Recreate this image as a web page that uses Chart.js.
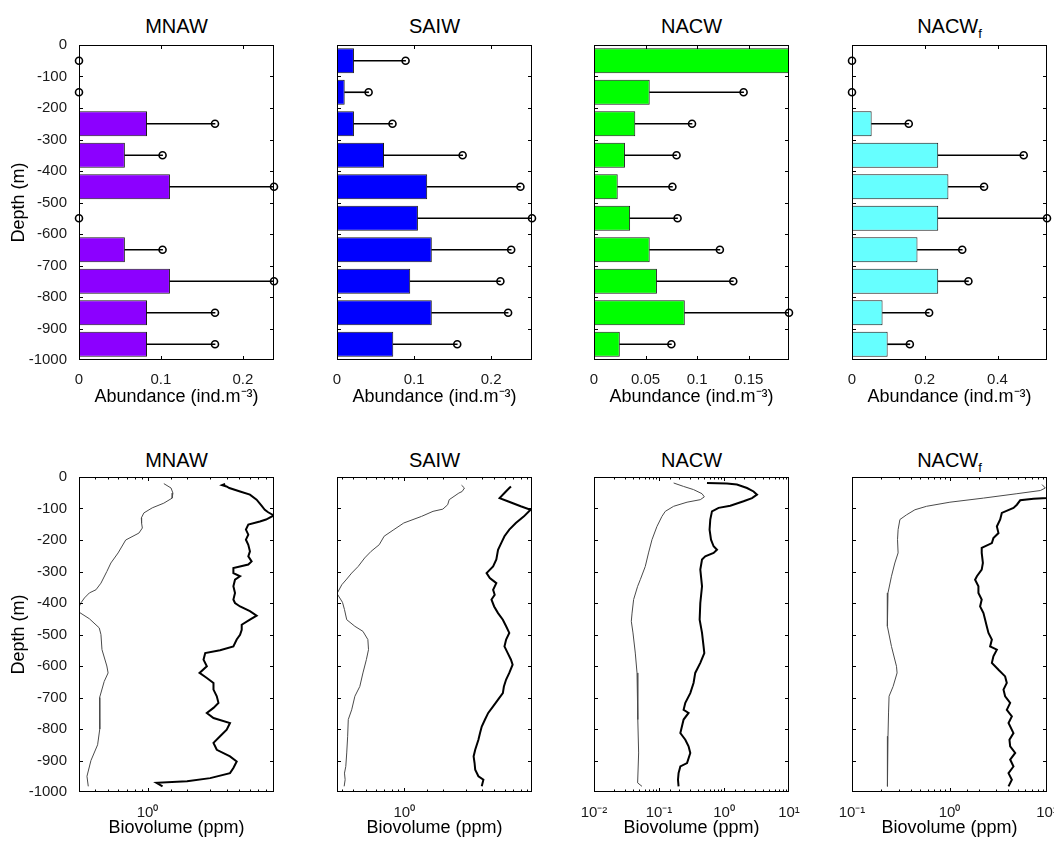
<!DOCTYPE html>
<html>
<head>
<meta charset="utf-8">
<script src="https://cdn.jsdelivr.net/npm/chart.js@4.4.1/dist/chart.umd.min.js"></script>
<style>
  html, body { margin: 0; padding: 0; background: #fff; overflow: hidden; width: 1054px; height: 843px; }
  canvas { position: absolute; }
  .ttl { position: absolute; width: 195px; text-align: center; white-space: nowrap;
         font: 20px "Liberation Sans", Arial, sans-serif; line-height: 20px; color: #000; }
  .ttl sub { font-size: 13px; line-height: 0; vertical-align: -5px; }
</style>
</head>
<body>
<script>
/* ═══════════════════════════════════════════════════════
   Abundance (bars) + biovolume profiles (lines) per water mass
═══════════════════════════════════════════════════════ */

/* ── Top row: depth bins, mean abundance and mean+sd ── */
const depthBins = [-50, -150, -250, -350, -450, -550, -650, -750, -850, -950];

const mnawMean  = [0, 0, 0.083, 0.056, 0.111, 0, 0.056, 0.111, 0.083, 0.083];
const mnawHigh  = [0, 0, 0.166, 0.102, 0.238, 0, 0.102, 0.238, 0.166, 0.166];

const saiwMean  = [0.022, 0.010, 0.022, 0.061, 0.117, 0.105, 0.123, 0.095, 0.123, 0.073];
const saiwHigh  = [0.089, 0.041, 0.072, 0.163, 0.238, 0.253, 0.226, 0.212, 0.222, 0.156];

const nacwMean  = [0.25, 0.054, 0.040, 0.030, 0.023, 0.035, 0.054, 0.061, 0.088, 0.025];
const nacwHigh  = [null, 0.145, 0.095, 0.080, 0.076, 0.081, 0.122, 0.135, 0.189, 0.075];

const nacwfMean = [0, 0, 0.054, 0.237, 0.265, 0.237, 0.180, 0.237, 0.084, 0.098];
const nacwfHigh = [0, 0, 0.156, 0.472, 0.363, 0.536, 0.303, 0.320, 0.212, 0.159];

/* ── Bottom row: [depth, biovolume ppm] profiles (thin = small, thick = large) ── */
const mnawThin = [[-21,1.33],[-35,1.51],[-51,1.56],[-67,1.54],[-83,1.33],[-98,1.085],[-114,0.937],[-130,0.896],
  [-146,0.90],[-162,0.912],[-178,0.859],[-200,0.681],[-241,0.596],[-273,0.525],[-300,0.489],[-337,0.441],
  [-358,0.404],[-368,0.360],[-384,0.330],[-399,0.311],[-425,0.29],[-450,0.360],[-479,0.428],[-500,0.441],
  [-548,0.449],[-600,0.489],[-622,0.500],[-649,0.467],[-700,0.431],[-749,0.431],[-800,0.433],[-850,0.416],
  [-900,0.370],[-950,0.345],[-982,0.353]];
const mnawThick = [[-22,3.9],[-26,3.7],[-30,4.0],[-35,4.2],[-46,5.07],[-56,6.03],[-72,6.78],[-91,7.39],
  [-104,7.83],[-112,8.3],[-122,9.17],[-135,8.0],[-141,7.18],[-151,5.86],[-167,5.62],[-183,5.86],[-199,5.62],
  [-215,5.86],[-236,6.03],[-252,5.86],[-268,6.21],[-278,5.86],[-289,4.51],[-305,4.51],[-315,5.07],[-326,4.64],
  [-347,4.51],[-368,4.64],[-389,4.51],[-400,4.64],[-411,5.07],[-426,6.03],[-440,6.78],[-453,6.03],[-469,5.22],
  [-485,5.22],[-501,5.07],[-516,4.78],[-538,4.51],[-550,3.57],[-559,2.75],[-580,2.67],[-601,2.83],[-622,2.49],
  [-638,2.83],[-654,3.18],[-675,3.18],[-696,3.37],[-717,3.47],[-733,3.18],[-749,2.83],[-765,3.18],[-781,4.25],
  [-802,4.01],[-823,3.57],[-844,3.18],[-866,3.37],[-887,4.25],[-903,4.78],[-924,4.51],[-940,4.25],[-956,3.0],
  [-966,2.0],[-971,1.17],[-982,1.3]];

const saiwThin = [[-26,2.78],[-35,2.93],[-46,2.81],[-51,2.65],[-72,2.23],[-88,2.17],[-102,1.99],[-109,1.67],
  [-125,1.36],[-146,0.99],[-167,0.83],[-188,0.697],[-215,0.638],[-236,0.552],[-257,0.492],[-284,0.438],
  [-305,0.39],[-324,0.357],[-342,0.327],[-370,0.3],[-398,0.331],[-421,0.343],[-453,0.357],[-474,0.413],
  [-490,0.477],[-516,0.521],[-548,0.527],[-580,0.507],[-622,0.477],[-665,0.451],[-696,0.413],[-739,0.39],
  [-770,0.367],[-823,0.363],[-876,0.357],[-919,0.351],[-940,0.343],[-961,0.347],[-982,0.341]];
const saiwThick = [[-30,6.73],[-35,6.53],[-51,5.99],[-67,5.49],[-77,6.35],[-93,8.01],[-104,9.55],[-125,8.49],
  [-146,7.34],[-167,6.53],[-188,5.99],[-210,5.65],[-231,5.34],[-262,5.18],[-284,4.89],[-305,4.35],[-321,4.61],
  [-337,5.18],[-358,4.89],[-374,5.03],[-389,4.75],[-411,4.98],[-432,5.34],[-453,5.82],[-474,6.17],[-495,6.53],
  [-516,6.17],[-538,5.99],[-559,6.35],[-580,6.73],[-596,6.93],[-622,6.53],[-643,6.17],[-665,5.93],[-686,5.82],
  [-707,5.34],[-728,4.89],[-749,4.48],[-770,4.23],[-792,3.99],[-813,3.87],[-834,3.76],[-866,3.55],[-887,3.45],
  [-908,3.51],[-929,3.55],[-950,3.76],[-961,4.11],[-982,3.99]];

const nacwThin = [[-19,0.168],[-30,0.239],[-40,0.34],[-53,0.459],[-63,0.498],[-72,0.432],[-80,0.27],[-93,0.168],
  [-109,0.125],[-125,0.111],[-157,0.093],[-199,0.078],[-241,0.069],[-284,0.0615],[-326,0.0515],[-347,0.0469],
  [-389,0.0407],[-432,0.0385],[-458,0.0375],[-495,0.0398],[-559,0.0432],[-622,0.0459],[-686,0.0469],
  [-770,0.0475],[-876,0.0486],[-971,0.0469],[-982,0.0547]];
const nacwThick = [[-19,0.547],[-21,1.11],[-24,1.58],[-35,2.26],[-46,2.85],[-56,3.22],[-67,2.7],[-77,2.0],
  [-91,1.25],[-98,0.826],[-109,0.653],[-135,0.615],[-167,0.6],[-199,0.631],[-220,0.692],[-231,0.78],[-241,0.692],
  [-252,0.515],[-262,0.459],[-294,0.432],[-347,0.459],[-400,0.432],[-453,0.422],[-495,0.459],[-538,0.485],
  [-559,0.498],[-590,0.432],[-622,0.361],[-654,0.34],[-686,0.303],[-717,0.254],[-739,0.239],[-749,0.285],
  [-770,0.239],[-813,0.213],[-834,0.254],[-855,0.285],[-876,0.303],[-908,0.27],[-919,0.213],[-940,0.2],
  [-961,0.196],[-982,0.2]];

const nacwfThin = [[-24,8.89],[-35,9.61],[-43,8.53],[-53,4.91],[-67,2.23],[-80,1.01],[-93,0.582],[-104,0.442],
  [-120,0.363],[-135,0.31],[-167,0.297],[-199,0.293],[-241,0.297],[-273,0.275],[-315,0.254],[-368,0.234],
  [-395,0.229],[-432,0.229],[-474,0.234],[-538,0.254],[-601,0.286],[-622,0.29],[-665,0.264],[-696,0.24],
  [-749,0.237],[-823,0.234],[-876,0.231],[-982,0.231]];
const nacwfThick = [[-65,11],[-67,10.0],[-69,7.28],[-74,5.31],[-88,4.91],[-98,4.53],[-114,3.44],[-135,3.31],
  [-157,3.06],[-178,3.18],[-194,2.82],[-210,2.72],[-225,2.14],[-241,2.14],[-273,2.2],[-294,2.14],[-315,1.91],
  [-326,1.83],[-347,1.98],[-368,1.98],[-389,2.14],[-411,2.06],[-432,2.23],[-453,2.32],[-474,2.41],[-495,2.51],
  [-516,2.72],[-538,2.61],[-548,3.06],[-569,2.82],[-590,2.72],[-612,3.18],[-633,3.72],[-654,3.87],[-675,3.58],
  [-696,3.72],[-717,4.19],[-739,3.87],[-760,4.36],[-781,4.03],[-813,4.53],[-834,4.12],[-855,4.19],[-876,4.72],
  [-897,4.19],[-919,4.53],[-940,4.03],[-961,4.36],[-982,4.03]];

/* ── Panel setup ── */
const panels = [
  { name: 'MNAW', sub: '',  color: '#8c00ff', mean: mnawMean,  high: mnawHigh,  xMax: 0.238, xStep: 0.1,
    bioMin: 0.305, bioMax: 9.2, thin: mnawThin,  thick: mnawThick },
  { name: 'SAIW', sub: '',  color: '#0000ff', mean: saiwMean,  high: saiwHigh,  xMax: 0.253, xStep: 0.1,
    bioMin: 0.327, bioMax: 9.8, thin: saiwThin,  thick: saiwThick },
  { name: 'NACW', sub: '',  color: '#00ff00', mean: nacwMean,  high: nacwHigh,  xMax: 0.189, xStep: 0.05,
    bioMin: 0.01,  bioMax: 10,  thin: nacwThin,  thick: nacwThick },
  { name: 'NACW', sub: 'f', color: '#66ffff', mean: nacwfMean, high: nacwfHigh, xMax: 0.536, xStep: 0.2,
    bioMin: 0.1,   bioMax: 10,  thin: nacwfThin, thick: nacwfThick }
];

const COL_LEFT = [79, 337, 594, 852];
const PLOT_W   = 195;
const Y_AXIS_W = 75;
const RIGHT_PAD = 20;
const TOP_PAD  = 15;
const ROWS = [
  { top: 45,  bottom: 360, xAxisH: 48, titleTop: 16 },
  { top: 477, bottom: 792, xAxisH: 47, titleTop: 450 }
];

const FONT = '"Liberation Sans", Arial, sans-serif';
Chart.defaults.font.family = FONT;
Chart.defaults.color = '#1a1a1a';

const SUP = { '-': '⁻', '0': '⁰', '1': '¹', '2': '²', '3': '³', '4': '⁴', '5': '⁵', '6': '⁶', '7': '⁷', '8': '⁸', '9': '⁹' };
const plain = v => String(Math.round(v * 1e6) / 1e6);
function powLabel(v) {
  const e = Math.log10(v);
  const r = Math.round(e);
  if (Math.abs(e - r) > 1e-6) return '';
  return '10' + String(r).split('').map(ch => SUP[ch]).join('');
}

/* ── Box + inward tick marks (MATLAB look) ── */
const frame = {
  id: 'frame',
  afterDatasetsDraw(chart) {
    const { ctx, chartArea: a } = chart;
    const xs = chart.scales.x, ys = chart.scales.y;
    ctx.save();
    ctx.strokeStyle = '#000';
    ctx.lineWidth = 1;
    ctx.beginPath();
    xs.ticks.forEach(t => {
      const p = Math.round(xs.getPixelForValue(t.value)) + 0.5;
      if (p < a.left + 2 || p > a.right - 2) return;
      const len = t.major === false ? 2.5 : 4;
      ctx.moveTo(p, a.bottom); ctx.lineTo(p, a.bottom - len);
      ctx.moveTo(p, a.top);    ctx.lineTo(p, a.top + len);
    });
    ys.ticks.forEach(t => {
      const p = Math.round(ys.getPixelForValue(t.value)) + 0.5;
      if (p < a.top + 2 || p > a.bottom - 2) return;
      ctx.moveTo(a.left, p);  ctx.lineTo(a.left + 4, p);
      ctx.moveTo(a.right, p); ctx.lineTo(a.right - 4, p);
    });
    ctx.stroke();
    ctx.strokeRect(a.left + 0.5, a.top + 0.5, a.width - 1, a.height - 1);
    ctx.restore();
  }
};

function makeCanvas(col, row) {
  const r = ROWS[row];
  const cv = document.createElement('canvas');
  cv.width  = Y_AXIS_W + PLOT_W + RIGHT_PAD;
  cv.height = TOP_PAD + (r.bottom - r.top) + r.xAxisH;
  cv.style.left = (COL_LEFT[col] - Y_AXIS_W) + 'px';
  cv.style.top  = (r.top - TOP_PAD) + 'px';
  document.body.appendChild(cv);
  return cv.getContext('2d');
}

function addTitle(col, row, p) {
  const d = document.createElement('div');
  d.className = 'ttl';
  d.style.left = COL_LEFT[col] + 'px';
  d.style.top  = ROWS[row].titleTop + 'px';
  d.innerHTML = p.name + (p.sub ? '<sub>' + p.sub + '</sub>' : '');
  document.body.appendChild(d);
}

function depthAxis(col) {
  return {
    type: 'linear', min: -1000, max: 0, offset: false,
    grid: { display: false }, border: { display: false },
    ticks: { display: col === 0, stepSize: 100, autoSkip: false, padding: 4,
             font: { size: 15 }, color: '#1a1a1a', callback: v => plain(v) },
    title: { display: col === 0, text: 'Depth (m)', color: '#000',
             font: { size: 18 }, padding: { top: 4, bottom: 0 } },
    afterFit: s => { s.width = Y_AXIS_W; }
  };
}

const baseOptions = {
  responsive: false,
  animation: false,
  devicePixelRatio: 1,
  layout: { padding: { top: TOP_PAD, right: RIGHT_PAD, left: 0, bottom: 0 } },
  plugins: { legend: { display: false }, tooltip: { enabled: false } }
};

/* ── Abundance bar panel ── */
function renderAbundance(col, p) {
  const bars = depthBins.map((d, i) => ({ x: p.mean[i], y: d }));
  const whiskers = depthBins
    .map((d, i) => ({ x: [p.mean[i], p.high[i]], y: d }))
    .filter(w => w.x[1] !== null);
  const marks = depthBins
    .map((d, i) => ({ x: p.high[i], y: d }))
    .filter(m => m.x !== null);

  new Chart(makeCanvas(col, 0), {
    type: 'bar',
    data: {
      datasets: [
        { type: 'scatter', order: 1, clip: false, data: marks,
          pointRadius: 3.5, pointBorderWidth: 1.6, pointBorderColor: '#000',
          pointBackgroundColor: 'rgba(0,0,0,0)' },
        { type: 'bar', indexAxis: 'y', grouped: false, order: 2, data: whiskers,
          barThickness: 1, backgroundColor: '#000', borderWidth: 0 },
        { type: 'bar', indexAxis: 'y', grouped: false, order: 3, data: bars,
          backgroundColor: p.color, borderColor: '#1a1a1a', borderWidth: 1, borderSkipped: false,
          barPercentage: 0.8, categoryPercentage: 1 }
      ]
    },
    options: {
      ...baseOptions,
      scales: {
        x: {
          type: 'linear', min: 0, max: p.xMax, offset: false,
          grid: { display: false }, border: { display: false },
          ticks: { stepSize: p.xStep, includeBounds: false, autoSkip: false, maxRotation: 0, padding: 3,
                   font: { size: 15 }, color: '#1a1a1a', callback: v => plain(v) },
          title: { display: true, text: 'Abundance (ind.m⁻³)', color: '#000',
                   font: { size: 18 }, padding: { top: 0, bottom: 0 } },
          afterFit: s => { s.height = ROWS[0].xAxisH; }
        },
        y: depthAxis(col)
      }
    },
    plugins: [frame]
  });
}

/* ── Biovolume profile panel ── */
function renderBiovolume(col, p) {
  const toPts = arr => arr.map(([d, v]) => ({ x: v, y: d }));

  new Chart(makeCanvas(col, 1), {
    type: 'scatter',
    data: {
      datasets: [
        { data: toPts(p.thick), showLine: true, pointRadius: 0, borderColor: '#000', borderWidth: 2 },
        { data: toPts(p.thin),  showLine: true, pointRadius: 0, borderColor: '#4a4a4a', borderWidth: 1 }
      ]
    },
    options: {
      ...baseOptions,
      scales: {
        x: {
          type: 'logarithmic', min: p.bioMin, max: p.bioMax, offset: false,
          grid: { display: false }, border: { display: false },
          ticks: { autoSkip: false, maxRotation: 0, padding: 4,
                   font: { size: 15 }, color: '#1a1a1a', callback: v => powLabel(v) },
          title: { display: true, text: 'Biovolume (ppm)', color: '#000',
                   font: { size: 18 }, padding: { top: 0, bottom: 0 } },
          afterFit: s => { s.height = ROWS[1].xAxisH; }
        },
        y: depthAxis(col)
      }
    },
    plugins: [frame]
  });
}

panels.forEach((p, col) => {
  addTitle(col, 0, p);
  addTitle(col, 1, p);
  renderAbundance(col, p);
  renderBiovolume(col, p);
});
</script>
</body>
</html>
